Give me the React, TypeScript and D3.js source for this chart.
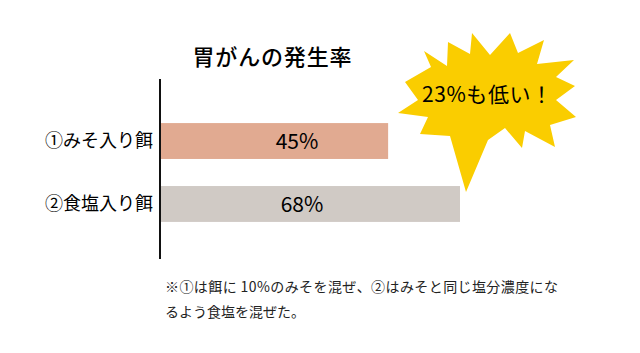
import React from "react";
import * as d3 from "d3";

const categories = ["①みそ入り餌", "②食塩入り餌"];
const values = [45, 68];
const valueLabels = ["45%", "68%"];
const barColors = ["#E1AA91", "#D0CAC5"];
const title = "胃がんの発生率";
const calloutText = "23%も低い！";
const noteLines = [
  "※①は餌に 10%のみそを混ぜ、②はみそと同じ塩分濃度にな",
  "るよう食塩を混ぜた。",
];

// starburst outline in its own unit coords
const burstPts: [number, number][] = [
  [466, 192], [450, 136], [420, 134], [428, 117], [398, 113], [418, 100],
  [405, 82], [431, 67], [424, 51], [447, 66], [448, 42], [470, 54],
  [472, 33], [490, 55], [510, 33], [518, 53], [544, 40], [537, 64],
  [574, 60], [556, 77], [575, 86], [556, 100], [576, 117], [550, 125],
  [555, 147], [525, 131], [522, 148], [505, 128], [488, 140],
];

const W = 640;
const H = 353;
const FONT = "'Noto Sans CJK JP', 'Noto Sans', sans-serif";

export default function App() {
  const x = d3.scaleLinear().domain([-28, 68]).range([160, 460]);
  const y = d3
    .scaleBand<string>()
    .domain(categories)
    .range([79, 266])
    .paddingInner(0.43)
    .paddingOuter(0.7);
  const line = d3.line<[number, number]>().curve(d3.curveLinearClosed);
  const axisX = 160;

  return (
    <svg
      width={W}
      height={H}
      style={{ position: "absolute", left: 0, top: 0, background: "#fff" }}
      fontFamily={FONT}
    >
      <rect width={W} height={H} fill="#fff" />
      <text x={272} y={65} textAnchor="middle" fontSize={22} fontWeight={500} fill="#000" textLength={159} lengthAdjust="spacing">
        {title}
      </text>
      {categories.map((c, i) => (
        <g key={c}>
          <rect
            x={axisX}
            y={y(c)}
            width={x(values[i]) - axisX}
            height={y.bandwidth()}
            fill={barColors[i]}
          />
          <text
            x={i === 0 ? 297 : 302}
            y={(y(c) as number) + y.bandwidth() / 2}
            dy="0.36em"
            textAnchor="middle"
            fontSize={21}
            fill="#000"
          >
            {valueLabels[i]}
          </text>
          <text
            x={153}
            y={(y(c) as number) + y.bandwidth() / 2}
            dy="0.36em"
            textAnchor="end"
            fontSize={18}
            fill="#000"
            textLength={108}
            lengthAdjust="spacing"
          >
            {c}
          </text>
        </g>
      ))}
      <line x1={axisX} x2={axisX} y1={79} y2={259} stroke="#111" strokeWidth={2} />
      <path d={line(burstPts) || ""} fill="#FACD00" />
      <text x={487} y={94} dy="0.36em" textAnchor="middle" fontSize={21} fill="#000" textLength={130} lengthAdjust="spacing">
        {calloutText}
      </text>
      <text x={165} y={292} fontSize={14} fill="#222" textLength={393} lengthAdjust="spacing">
        {noteLines[0]}
      </text>
      <text x={165} y={317} fontSize={14} fill="#222">
        {noteLines[1]}
      </text>
    </svg>
  );
}
